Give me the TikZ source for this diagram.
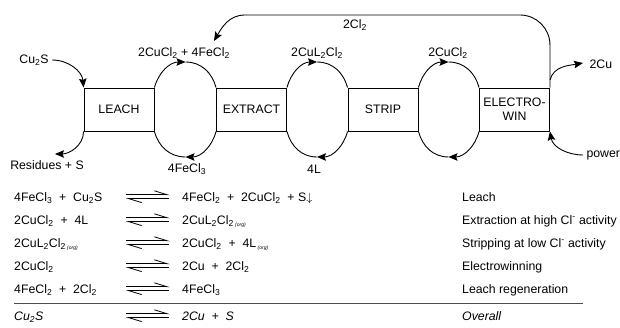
\documentclass[tikz,border=0pt]{standalone}
\usepackage{fontspec}
\setmainfont{Liberation Sans}
\usetikzlibrary{arrows.meta}
\newcommand{\chsub}[1]{\textsubscript{#1}}
\newcommand{\orgph}{\textsubscript{\,\tiny\itshape(org)}}
\tikzstyle{stage}=[rectangle,draw=black,line width=0.9pt,minimum width=70pt,minimum height=43pt,inner sep=0pt,align=center]
\tikzstyle{flow}=[line width=0.9pt,>={Stealth[length=9pt,width=7.5pt,inset=1.5pt]}]
\tikzstyle{eqn}=[anchor=base west,inner sep=0pt]
\tikzstyle{harp}=[line width=0.8pt,-{Straight Barb[left,length=13pt,width=8pt]}]

\begin{document}
\begin{tikzpicture}[x=1pt,y=1pt,font=\fontsize{12.3}{14}\selectfont]
\useasboundingbox (0,0) rectangle (620,328);
% process stages
\node[stage] (leach) at (119,218.5) {LEACH};
\node[stage] (extract) at (251.5,218.5) {EXTRACT};
\node[stage] (strip) at (383,218.5) {STRIP};
\node[stage] (ewin) at (514.5,218.5) {ELECTRO-\\WIN};
% loops between stages
\coordinate (t1) at (185.5,266);
\coordinate (b1) at (185.5,171);
\coordinate (t2) at (317,266);
\coordinate (b2) at (317,171);
\coordinate (t3) at (448.5,266);
\coordinate (b3) at (448.5,171);
\draw[flow,->] (leach.north east) to[out=75,in=180] (t1);
\draw[flow] (t1) to[out=0,in=105] (extract.north west);
\draw[flow,->] (extract.south west) to[out=-105,in=0] (b1);
\draw[flow] (b1) to[out=180,in=-75] (leach.south east);
\draw[flow,->] (extract.north east) to[out=75,in=180] (t2);
\draw[flow] (t2) to[out=0,in=105] (strip.north west);
\draw[flow,->] (strip.south west) to[out=-105,in=0] (b2);
\draw[flow] (b2) to[out=180,in=-75] (extract.south east);
\draw[flow,->] (strip.north east) to[out=75,in=180] (t3);
\draw[flow] (t3) to[out=0,in=105] (ewin.north west);
\draw[flow,->] (ewin.south west) to[out=-105,in=0] (b3);
\draw[flow] (b3) to[out=180,in=-75] (strip.south east);
\node (lt1) at (184,275) {2CuCl\chsub{2} + 4FeCl\chsub{2}};
\node (lb1) at (187,159) {4FeCl\chsub{3}};
\node (lt2) at (317,275) {2CuL\chsub{2}Cl\chsub{2}};
\node (lb2) at (314,159) {4L};
\node (lt3) at (448,275) {2CuCl\chsub{2}};
% chlorine return
\coordinate (r1) at (245,313);
\coordinate (r2) at (214,287);
\draw[flow,rounded corners=30pt] (ewin.north east) |- (r1);
\draw[flow,->] (r1) to[out=180,in=60] (r2);
\node (cl) at (355,303) {2Cl\chsub{2}};
% feed and products
\node (cus) at (34,268) {Cu\chsub{2}S};
\draw[flow,->] (cus.east) to[out=0,in=95] (leach.north west);
\node (res) at (47,163) {Residues + S};
\coordinate (rtip) at (55,174);
\draw[flow,->] (leach.south west) to[out=-90,in=0] (rtip);
\coordinate (cuout) at (550,248);
\coordinate (cutip) at (583,265);
\draw[flow,->] (cuout) to[out=75,in=190] (cutip);
\node[anchor=west] (cu) at (586,264) {2Cu};
\node[anchor=west] (pow) at (583,173) {power};
\draw[flow,->] (pow.west) to[out=180,in=-80] (ewin.south east);
% reactions
\node[eqn] (e1l) at (14,126.7) {4FeCl\chsub{3}\ \ +\ \ Cu\chsub{2}S};
\node[eqn] (e2l) at (14,103.7) {2CuCl\chsub{2}\ \ +\ \ 4L};
\node[eqn] (e3l) at (14,80.7) {2CuL\chsub{2}Cl\chsub{2}\orgph};
\node[eqn] (e4l) at (14,57.7) {2CuCl\chsub{2}};
\node[eqn] (e5l) at (14,34.7) {4FeCl\chsub{2}\ \ +\ \ 2Cl\chsub{2}};
\node[eqn] (e6l) at (14,7.7) {\itshape Cu\chsub{2}S};
\foreach \y in {131,108,85,62,39,12} {
  \draw[harp] (126,\y+2.2) -- (170,\y+2.2);
  \draw[harp] (169,\y-1.6) -- (126,\y-1.6);
}
\node[eqn] (e1r) at (182,126.7) {4FeCl\chsub{2}\ \ +\ \ 2CuCl\chsub{2}\ \ + S$\downarrow$};
\node[eqn] (e2r) at (182,103.7) {2CuL\chsub{2}Cl\chsub{2}\orgph};
\node[eqn] (e3r) at (182,80.7) {2CuCl\chsub{2}\ \ +\ \ 4L\orgph};
\node[eqn] (e4r) at (182,57.7) {2Cu\ \ +\ \ 2Cl\chsub{2}};
\node[eqn] (e5r) at (182,34.7) {4FeCl\chsub{3}};
\node[eqn] (e6r) at (182,7.7) {\itshape 2Cu\ \ +\ \ S};
\node[eqn] (d1) at (462,126.7) {Leach};
\node[eqn] (d2) at (462,103.7) {Extraction at high Cl\textsuperscript{-} activity};
\node[eqn] (d3) at (462,80.7) {Stripping at low Cl\textsuperscript{-} activity};
\node[eqn] (d4) at (462,57.7) {Electrowinning};
\node[eqn] (d5) at (462,34.7) {Leach regeneration};
\node[eqn] (d6) at (462,7.7) {\itshape Overall};
\draw[line width=0.6pt,black!70] (14,25) -- (583,25);
\end{tikzpicture}
\end{document}
